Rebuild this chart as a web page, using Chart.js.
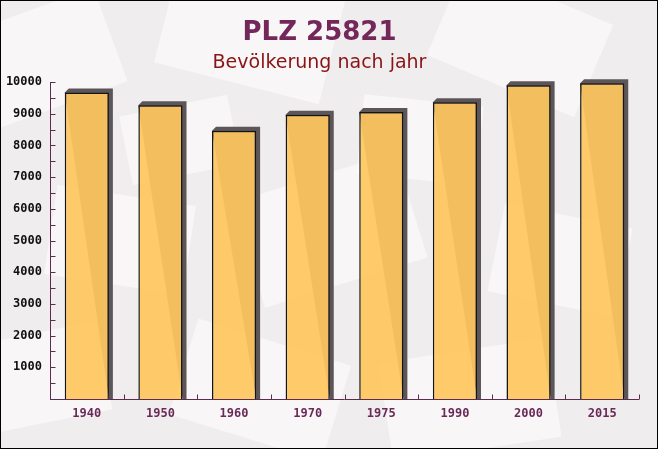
<!DOCTYPE html>
<html>
<head>
<meta charset="utf-8">
<script src="https://cdn.jsdelivr.net/npm/chart.js@4/dist/chart.umd.min.js"></script>
<style>
  html, body { margin: 0; padding: 0; background: #fff; }
  #wrap { width: 658px; height: 449px; }
</style>
</head>
<body>
<div id="wrap"><canvas id="c" width="658" height="449"></canvas></div>
<script>
const categories = ['1940', '1950', '1960', '1970', '1975', '1990', '2000', '2015'];
const population = [9670, 9270, 8460, 8970, 9050, 9360, 9900, 9960];
const yTickValues = [1000, 2000, 3000, 4000, 5000, 6000, 7000, 8000, 9000, 10000];
const titleText = 'PLZ 25821';
const subtitleText = 'Bevölkerung nach jahr';

const AXIS_COLOR = '#5e2b50';

const decoPlugin = {
  id: 'deco',
  beforeDraw(chart) {
    const ctx = chart.ctx;
    const W = chart.width, H = chart.height;
    ctx.save();
    ctx.fillStyle = '#f0edef';
    ctx.fillRect(0, 0, W, H);
    const shapes = [
      [40, 60, 150, 100, -0.35], [250, 30, 170, 110, 0.25], [520, 40, 160, 100, 0.4],
      [120, 240, 140, 90, 0.15], [330, 230, 170, 110, -0.3], [560, 260, 130, 90, 0.2],
      [30, 380, 150, 90, -0.2], [260, 390, 160, 100, 0.3], [470, 400, 170, 100, -0.15],
      [420, 140, 120, 80, 0.1], [180, 140, 110, 70, -0.2]
    ];
    for (const [x, y, w, h, r] of shapes) {
      ctx.save();
      ctx.translate(x, y);
      ctx.rotate(r);
      ctx.fillStyle = 'rgba(255,255,255,0.5)';
      ctx.fillRect(-w / 2, -h / 2, w, h);
      ctx.restore();
    }
    ctx.restore();
  },
  beforeDatasetsDraw(chart) {
    const ctx = chart.ctx;
    const meta = chart.getDatasetMeta(0);
    const base = chart.scales.y.getPixelForValue(0);
    const dx = 4, dy = 4;
    ctx.save();
    ctx.fillStyle = '#5d5659';
    meta.data.forEach(bar => {
      const l = bar.x - bar.width / 2, r = bar.x + bar.width / 2, t = bar.y;
      ctx.beginPath();
      ctx.moveTo(l, t);
      ctx.lineTo(l + dx, t - dy);
      ctx.lineTo(r + dx, t - dy);
      ctx.lineTo(r + dx, base);
      ctx.lineTo(r, base);
      ctx.closePath();
      ctx.fill();
    });
    ctx.restore();
  },
  afterDraw(chart) {
    const ctx = chart.ctx;
    const ys = chart.scales.y, xs = chart.scales.x;
    const area = chart.chartArea;
    ctx.save();
    ctx.strokeStyle = AXIS_COLOR;
    ctx.lineWidth = 1;
    const ax = Math.round(area.left) + 0.5;
    ctx.beginPath();
    ctx.moveTo(ax, ys.getPixelForValue(10000));
    ctx.lineTo(ax, ys.getPixelForValue(0));
    for (let v = 500; v <= 10000; v += 500) {
      const py = Math.round(ys.getPixelForValue(v)) + 0.5;
      ctx.moveTo(ax, py);
      ctx.lineTo(ax + 5, py);
    }
    const by = Math.round(ys.getPixelForValue(0)) + 0.5;
    ctx.moveTo(area.left, by);
    ctx.lineTo(area.right, by);
    const step = xs.getPixelForValue(1) - xs.getPixelForValue(0);
    for (let i = 0; i < categories.length; i++) {
      const px = Math.round(xs.getPixelForValue(i) + step / 2) + 0.5;
      ctx.moveTo(px, by);
      ctx.lineTo(px, by - 5);
    }
    ctx.stroke();
    ctx.strokeStyle = '#000';
    ctx.strokeRect(0.5, 0.5, chart.width - 1, chart.height - 1);
    ctx.restore();
  }
};

new Chart(document.getElementById('c'), {
  type: 'bar',
  data: {
    labels: categories,
    datasets: [{
      data: population,
      backgroundColor: 'rgba(255,198,95,0.93)',
      borderColor: '#141414',
      borderWidth: 1.5,
      barPercentage: 0.6,
      categoryPercentage: 1.0
    }]
  },
  options: {
    responsive: false,
    animation: false,
    devicePixelRatio: 1,
    layout: { padding: { left: 0, right: 19, top: 0, bottom: 0 } },
    plugins: {
      legend: { display: false },
      tooltip: { enabled: false },
      title: {
        display: true,
        text: titleText,
        color: '#74285a',
        font: { family: 'DejaVu Sans', size: 26, weight: 'bold', lineHeight: 1.2 },
        padding: { top: 18, bottom: 0 }
      },
      subtitle: {
        display: true,
        text: subtitleText,
        color: '#8a1414',
        font: { family: 'DejaVu Sans', size: 19, weight: 'normal', lineHeight: 1.2 },
        padding: { top: 2, bottom: 8 }
      }
    },
    scales: {
      x: {
        grid: { display: false, drawTicks: false },
        border: { display: false },
        ticks: {
          color: '#6a2a58',
          font: { family: 'DejaVu Sans Mono', size: 12, weight: 'bold' },
          padding: 8
        },
        afterFit(scale) { scale.height = 50; }
      },
      y: {
        min: 0,
        max: 10000,
        grid: { display: false, drawTicks: false },
        border: { display: false },
        afterBuildTicks(scale) { scale.ticks = yTickValues.map(v => ({ value: v })); },
        ticks: {
          color: '#111',
          font: { family: 'DejaVu Sans Mono', size: 12, weight: 'bold' },
          padding: 8,
          callback: v => String(v)
        },
        afterFit(scale) { scale.width = 50; }
      }
    }
  },
  plugins: [decoPlugin]
});
</script>
</body>
</html>
